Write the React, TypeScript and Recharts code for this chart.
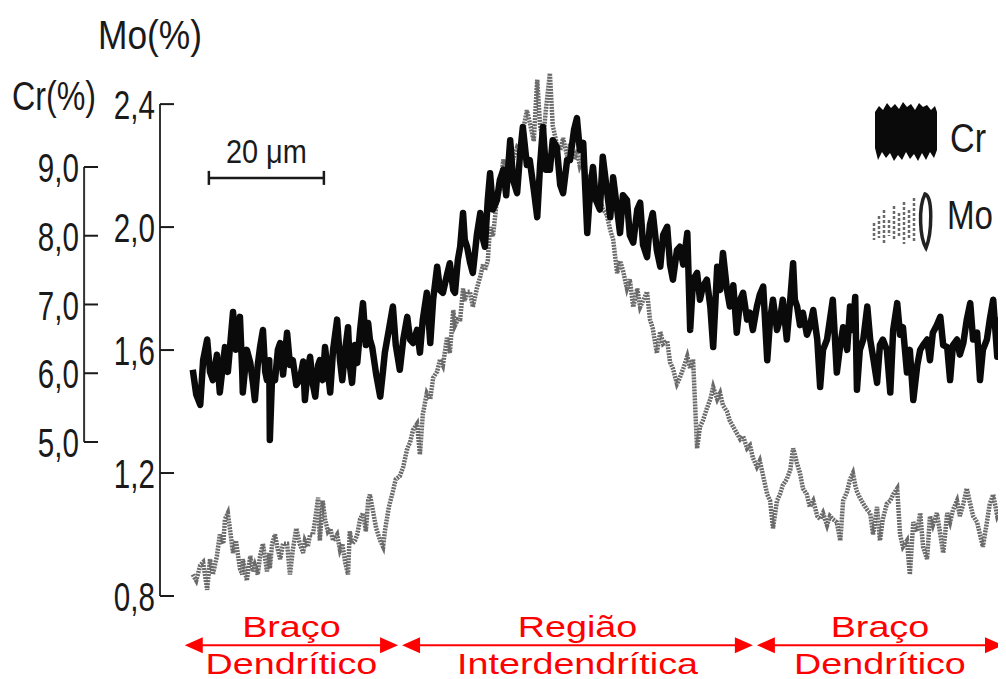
import React from 'react';
import { ComposedChart, Line, XAxis, YAxis, ReferenceLine, Legend } from 'recharts';

// distance along the scan (µm)
const DIST = [
  5.7, 6.3, 7.0, 7.5, 8.2, 8.7, 9.2, 9.9, 10.4, 11.0,
  11.3, 11.8, 12.7, 13.2, 13.9, 14.3, 14.4, 15.1, 15.7, 16.2,
  16.5, 17.0, 17.4, 17.9, 18.3, 18.6, 19.0, 19.1, 19.5, 20.0,
  20.5, 20.9, 21.4, 22.1, 22.6, 23.1, 23.7, 24.3, 24.9, 25.2,
  25.7, 26.1, 26.6, 27.0, 27.5, 27.8, 28.3, 28.7, 29.2, 29.6,
  30.1, 30.8, 31.3, 31.7, 32.2, 32.7, 33.0, 33.4, 33.9, 34.3,
  34.8, 35.3, 35.8, 36.2, 36.5, 36.9, 37.6, 38.3, 38.8, 39.1,
  39.8, 40.5, 41.0, 41.7, 42.3, 43.0, 43.5, 44.0, 44.7, 45.2,
  45.7, 46.4, 47.0, 47.5, 48.2, 48.7, 49.2, 49.9, 50.4, 51.0,
  51.3, 51.8, 52.2, 52.7, 53.0, 53.4, 53.9, 54.4, 55.1, 55.7,
  56.2, 56.5, 57.0, 57.4, 57.9, 58.6, 59.1, 59.7, 60.2, 60.9,
  61.4, 62.1, 62.6, 63.1, 63.8, 64.3, 65.0, 65.6, 66.1, 66.6,
  67.1, 67.8, 68.3, 69.0, 69.6, 70.1, 70.8, 71.3, 72.0, 72.5,
  73.0, 73.6, 74.3, 74.8, 75.3, 75.8, 76.5, 77.0, 77.7, 78.3,
  78.8, 79.5, 80.0, 80.5, 81.2, 81.7, 82.3, 83.0, 83.5, 84.0,
  84.7, 85.2, 85.7, 86.4, 87.0, 87.5, 88.2, 88.7, 89.2, 89.9,
  90.4, 91.0, 91.7, 92.2, 92.7, 93.4, 93.9, 94.4, 95.1, 95.7,
  96.2, 96.9, 97.4, 97.9, 98.6, 99.1, 99.7, 100.3, 100.9, 101.4,
  102.1, 102.6, 103.1, 103.8, 104.3, 104.9, 105.6, 106.1, 106.6, 107.3,
  107.8, 108.3, 109.0, 109.6, 110.1, 110.4, 110.8, 111.3, 111.8, 112.5,
  113.0, 113.6, 114.3, 114.8, 115.3, 116.0, 116.5, 117.0, 117.7, 118.3,
  118.8, 119.5, 120.0, 120.5, 120.9, 121.2, 121.7, 122.3, 123.0, 123.5,
  124.0, 124.7, 125.2, 125.7, 126.4, 127.0, 127.5, 128.2, 128.7, 129.2,
  129.9, 130.4, 131.0, 131.7, 132.2, 132.7, 133.4, 133.9, 134.4, 135.1,
  135.7, 136.2, 136.9, 137.4, 137.9, 138.6, 139.1, 139.7, 140.3, 140.9,
  141.4, 142.1, 142.6, 143.1, 143.8, 144.3, 144.9, 145.6, 146.1, 146.6,
];

// Cr (%)
const CR = [
  6.05, 5.69, 5.54, 6.19, 6.49, 6.02, 5.90, 6.27, 5.72, 6.17,
  6.38, 6.02, 6.89, 6.34, 6.82, 6.02, 5.72, 6.34, 6.15, 5.83,
  5.61, 6.12, 6.38, 6.63, 6.02, 5.90, 6.19, 5.03, 5.98, 5.90,
  6.34, 6.44, 5.98, 6.59, 6.12, 6.19, 5.83, 5.90, 6.17, 5.61,
  6.05, 6.24, 5.83, 5.66, 6.12, 6.19, 5.90, 6.38, 6.02, 5.72,
  6.34, 6.78, 6.19, 5.90, 6.34, 6.67, 6.12, 5.86, 6.41, 6.15,
  6.63, 7.02, 6.41, 6.73, 6.49, 6.38, 5.98, 5.66, 6.05, 6.30,
  6.63, 6.97, 6.41, 6.05, 6.49, 6.82, 6.49, 6.44, 6.63, 6.30,
  6.78, 7.17, 6.44, 7.07, 7.55, 7.21, 7.17, 7.43, 7.60, 7.21,
  7.17, 7.65, 7.84, 8.33, 7.94, 7.84, 7.62, 7.46, 8.01, 8.33,
  7.94, 7.84, 8.52, 8.91, 8.38, 8.52, 8.81, 8.96, 8.59, 9.39,
  8.81, 8.62, 9.17, 9.58, 9.03, 9.10, 8.67, 8.27, 9.03, 9.58,
  8.96, 8.96, 9.39, 9.29, 8.74, 8.62, 9.10, 9.10, 9.54, 9.71,
  9.25, 9.35, 8.04, 8.67, 9.00, 8.52, 8.38, 9.15, 8.67, 8.27,
  8.85, 8.38, 8.04, 8.59, 8.52, 8.01, 7.90, 8.38, 8.48, 7.87,
  7.69, 8.16, 8.33, 7.79, 7.55, 8.01, 8.13, 7.58, 7.36, 7.79,
  7.84, 7.58, 8.04, 6.63, 7.36, 7.46, 7.07, 7.26, 7.36, 6.97,
  6.38, 7.55, 7.21, 7.75, 7.21, 6.97, 7.28, 6.59, 7.07, 7.17,
  6.78, 6.88, 6.63, 6.97, 7.14, 7.26, 6.19, 6.78, 7.07, 6.63,
  6.78, 7.07, 6.49, 7.07, 7.60, 7.07, 6.97, 6.70, 6.88, 6.56,
  6.67, 6.92, 6.49, 5.80, 6.34, 6.49, 6.78, 7.07, 6.01, 6.41,
  6.67, 6.34, 6.97, 6.63, 7.11, 5.76, 6.34, 6.49, 6.97, 6.49,
  6.24, 5.86, 6.41, 6.49, 6.34, 5.72, 6.63, 7.02, 6.56, 6.67,
  6.01, 6.34, 5.61, 6.12, 6.34, 6.41, 6.49, 6.19, 6.59, 6.70,
  6.82, 6.41, 6.38, 5.90, 6.41, 6.49, 6.27, 6.44, 6.78, 7.02,
  6.49, 6.59, 5.90, 6.34, 6.49, 6.78, 7.07, 6.24, 6.78, 6.41,
];

// Mo (%)
const MO = [
  0.87, 0.85, 0.90, 0.91, 0.82, 0.92, 0.87, 0.93, 1.00, 0.97,
  1.05, 1.07, 0.94, 0.98, 0.89, 0.87, 0.92, 0.85, 0.93, 0.88,
  0.90, 0.87, 0.93, 0.97, 0.92, 0.88, 0.94, 0.89, 0.97, 1.00,
  0.95, 0.92, 0.97, 0.97, 0.87, 0.95, 1.02, 0.97, 0.94, 0.98,
  0.96, 1.00, 1.00, 1.05, 1.12, 0.98, 1.11, 1.05, 1.01, 1.02,
  0.98, 1.00, 0.95, 0.97, 0.91, 0.87, 1.01, 0.97, 0.98, 1.00,
  1.05, 1.07, 1.01, 1.11, 1.13, 1.09, 1.02, 0.98, 0.96, 1.01,
  1.09, 1.14, 1.18, 1.19, 1.22, 1.28, 1.30, 1.34, 1.36, 1.26,
  1.39, 1.46, 1.44, 1.51, 1.53, 1.57, 1.55, 1.64, 1.59, 1.73,
  1.68, 1.70, 1.70, 1.80, 1.76, 1.79, 1.79, 1.74, 1.80, 1.84,
  1.88, 1.86, 1.89, 2.00, 1.97, 2.09, 2.12, 2.22, 2.17, 2.28,
  2.22, 2.26, 2.25, 2.31, 2.38, 2.34, 2.28, 2.48, 2.33, 2.28,
  2.38, 2.50, 2.33, 2.27, 2.25, 2.29, 2.23, 2.27, 2.22, 2.25,
  2.20, 2.23, 2.14, 2.17, 2.10, 2.12, 2.09, 2.06, 2.04, 1.99,
  1.96, 1.85, 1.89, 1.86, 1.80, 1.83, 1.74, 1.80, 1.74, 1.76,
  1.79, 1.70, 1.67, 1.59, 1.66, 1.62, 1.63, 1.56, 1.54, 1.49,
  1.51, 1.54, 1.58, 1.54, 1.57, 1.28, 1.35, 1.37, 1.41, 1.44,
  1.48, 1.44, 1.46, 1.42, 1.40, 1.37, 1.35, 1.33, 1.31, 1.32,
  1.28, 1.29, 1.25, 1.22, 1.24, 1.19, 1.13, 1.11, 1.02, 1.11,
  1.13, 1.16, 1.18, 1.21, 1.28, 1.26, 1.23, 1.20, 1.15, 1.13,
  1.09, 1.11, 1.06, 1.05, 1.07, 1.03, 1.06, 1.05, 1.04, 0.98,
  1.11, 1.14, 1.18, 1.20, 1.16, 1.14, 1.12, 1.10, 1.08, 1.07,
  1.00, 1.09, 0.98, 1.05, 1.10, 1.11, 1.13, 1.15, 1.00, 0.96,
  0.98, 0.87, 1.04, 1.01, 1.07, 0.96, 0.92, 1.06, 1.03, 1.07,
  1.00, 0.94, 1.07, 1.04, 1.08, 1.11, 1.06, 1.10, 1.15, 1.10,
  1.06, 1.04, 1.00, 0.96, 1.04, 1.10, 1.13, 1.06, 1.08, 1.01,
];

const MO_TICKS = [0.8, 1.2, 1.6, 2.0, 2.4];
const CR_TICKS = [5, 6, 7, 8, 9];
const MO_DOMAIN: [number, number] = [0.8, 2.55];
const CR_DOMAIN: [number, number] = [2.76, 10.585];
const X_DOMAIN: [number, number] = [0, 146.6];
const CR_AXIS_X = -13.2;

const SCALE_BAR_START = 8.5;
const SCALE_BAR_LENGTH = 20;
const SCALE_BAR_LEVEL = 2.16;
const SCALE_BAR_LABEL = '20 μm';

const REGION_SEGMENTS = [
  [4.3, 41.4],
  [42.1, 103.1],
  [103.8, 146.6],
];
const REGION_LABELS = [
  ['Braço', 'Dendrítico'],
  ['Região', 'Interdendrítica'],
  ['Braço', 'Dendrítico'],
];
const REGION_LEVEL = 0.64;

const SERIES_NAMES: Record<string, string> = { cr: 'Cr', mo: 'Mo' };

// axis ids: the first (sorted) left axis sits next to the plot
const MO_AXIS = 'y1Mo';
const CR_AXIS = 'y2Cr';

const data = DIST.map((d, i) => ({ d, cr: CR[i], mo: MO[i] }));

const FONT = "'Liberation Sans', Arial, sans-serif";
const INK = '#1a1a1a';

const fmt = (v: number) => v.toFixed(1).replace('.', ',');

const AxisTick = (props: any) => {
  const { x, y, payload } = props;
  return (
    <g>
      <line x1={x} y1={y} x2={x + 14} y2={y} stroke={INK} strokeWidth={2} />
      <text
        transform={`translate(${x - 5},${y + 1}) scale(0.74,1)`}
        textAnchor="end"
        dominantBaseline="central"
        fontSize={40}
        fontFamily={FONT}
        fill={INK}
      >
        {fmt(payload.value)}
      </text>
    </g>
  );
};

const makeTitle = (dx: number, dy: number, len: number) => (p: any) => {
  const vb = p.viewBox || {};
  return (
    <text
      x={vb.x + dx}
      y={vb.y + dy}
      fontSize={40}
      fontFamily={FONT}
      fill={INK}
      textLength={len}
      lengthAdjust="spacingAndGlyphs"
    >
      {p.value}
    </text>
  );
};

const ScaleBarShape = (props: any) => {
  const { x1, y1, x2 } = props;
  return (
    <g>
      <line x1={x1} y1={y1} x2={x2} y2={y1} stroke={INK} strokeWidth={2.5} />
      <line x1={x1} y1={y1 - 7} x2={x1} y2={y1 + 7} stroke={INK} strokeWidth={2.5} />
      <line x1={x2} y1={y1 - 7} x2={x2} y2={y1 + 7} stroke={INK} strokeWidth={2.5} />
      <text
        x={(x1 + x2) / 2}
        y={y1 - 15}
        textAnchor="middle"
        fontSize={34}
        fontFamily={FONT}
        fill={INK}
        textLength={81}
        lengthAdjust="spacingAndGlyphs"
      >
        {SCALE_BAR_LABEL}
      </text>
    </g>
  );
};

const RED = '#ff0000';
const makeRegionShape = (lines: string[]) => (props: any) => {
  const { x1, y1, x2 } = props;
  const mid = (x1 + x2) / 2;
  const ah = 18;
  const hw = 8;
  return (
    <g>
      <line x1={x1 + ah - 2} y1={y1} x2={x2 - ah + 2} y2={y1} stroke={RED} strokeWidth={2} />
      <polygon points={`${x1},${y1} ${x1 + ah},${y1 - hw} ${x1 + ah},${y1 + hw}`} fill={RED} />
      <polygon points={`${x2},${y1} ${x2 - ah},${y1 - hw} ${x2 - ah},${y1 + hw}`} fill={RED} />
      <text transform={`translate(${mid},${y1 - 8}) scale(1.3,1)`} textAnchor="middle" fontSize={29} fontFamily={FONT} fill={RED}>
        {lines[0]}
      </text>
      <text transform={`translate(${mid},${y1 + 29}) scale(1.3,1)`} textAnchor="middle" fontSize={29} fontFamily={FONT} fill={RED}>
        {lines[1]}
      </text>
    </g>
  );
};

const LegendContent = (props: any) => {
  const payload: any[] = props.payload || [];
  const find = (k: string) => payload.find((p) => p.dataKey === k);
  const cr = find('cr');
  const mo = find('mo');
  return (
    <svg width={140} height={165} style={{ display: 'block' }}>
      <polygon
        points="5,14 9,8 13,12 17,5 21,10 25,6 29,11 33,4 37,9 41,6 45,12 49,5 53,9 57,7 61,12 65,8 67,14 67,52 64,60 60,54 56,62 52,55 48,63 44,56 40,61 36,54 32,62 28,57 24,63 20,55 16,60 12,54 8,62 5,50"
        fill={cr ? cr.color : '#111'}
      />
      <text x={80} y={54} fontSize={40} fontFamily={FONT} fill={INK} textLength={36} lengthAdjust="spacingAndGlyphs">
        {cr ? cr.value : 'Cr'}
      </text>
      <g stroke={mo ? mo.color : '#777'} strokeWidth={2.5} strokeDasharray="3 2">
        <line x1={4} y1={125} x2={4} y2={142} />
        <line x1={9} y1={118} x2={9} y2={140} />
        <line x1={14} y1={112} x2={14} y2={145} />
        <line x1={19} y1={122} x2={19} y2={138} />
        <line x1={24} y1={108} x2={24} y2={143} />
        <line x1={29} y1={115} x2={29} y2={140} />
        <line x1={34} y1={104} x2={34} y2={146} />
        <line x1={39} y1={112} x2={39} y2={141} />
        <line x1={44} y1={100} x2={44} y2={144} />
      </g>
      <path d="M55,96 C63,98 62,135 56,150 C50,140 48,110 55,96 Z" stroke="#222" strokeWidth={3.5} fill="none" />
      <text x={77} y={131} fontSize={40} fontFamily={FONT} fill={INK} textLength={46} lengthAdjust="spacingAndGlyphs">
        {mo ? mo.value : 'Mo'}
      </text>
    </svg>
  );
};

export default function App() {
  return (
    <ComposedChart
      width={998}
      height={671}
      data={data}
      margin={{ top: 50, right: 3, bottom: 83, left: 0 }}
      style={{ fontFamily: FONT }}
    >
      <XAxis dataKey="d" type="number" domain={X_DOMAIN} hide />
      <YAxis
        yAxisId={MO_AXIS}
        orientation="left"
        type="number"
        domain={MO_DOMAIN}
        ticks={MO_TICKS}
        interval={0}
        width={76}
        axisLine={false}
        tickLine={false}
        tickSize={0}
        tickMargin={0}
        tick={<AxisTick />}
        label={{ value: 'Mo(%)', content: makeTitle(14, -9, 104) }}
      />
      <YAxis
        yAxisId={CR_AXIS}
        orientation="left"
        type="number"
        domain={CR_DOMAIN}
        ticks={CR_TICKS}
        interval={0}
        width={76}
        axisLine={false}
        tickLine={false}
        tickSize={0}
        tickMargin={0}
        tick={<AxisTick />}
        label={{ value: 'Cr(%)', content: makeTitle(4, 52, 84) }}
      />
      <ReferenceLine
        yAxisId={MO_AXIS}
        segment={[{ x: 0, y: MO_TICKS[0] }, { x: 0, y: MO_TICKS[MO_TICKS.length - 1] }]}
        stroke="#333"
        strokeWidth={2}
        ifOverflow="visible"
      />
      <ReferenceLine
        yAxisId={CR_AXIS}
        segment={[{ x: CR_AXIS_X, y: CR_TICKS[0] }, { x: CR_AXIS_X, y: CR_TICKS[CR_TICKS.length - 1] }]}
        stroke="#333"
        strokeWidth={2}
        ifOverflow="visible"
      />
      <ReferenceLine
        yAxisId={MO_AXIS}
        segment={[
          { x: SCALE_BAR_START, y: SCALE_BAR_LEVEL },
          { x: SCALE_BAR_START + SCALE_BAR_LENGTH, y: SCALE_BAR_LEVEL },
        ]}
        ifOverflow="visible"
        shape={(p: any) => <ScaleBarShape {...p} />}
      />
      {REGION_SEGMENTS.map((seg, i) => (
        <ReferenceLine
          key={`reg-${i}`}
          yAxisId={MO_AXIS}
          segment={[{ x: seg[0], y: REGION_LEVEL }, { x: seg[1], y: REGION_LEVEL }]}
          ifOverflow="visible"
          shape={makeRegionShape(REGION_LABELS[i])}
        />
      ))}
      <Line
        yAxisId={MO_AXIS}
        dataKey="mo"
        name={SERIES_NAMES.mo}
        type="linear"
        stroke="#6a6a6a"
        strokeWidth={4.5}
        strokeDasharray="2 1"
        dot={false}
        activeDot={false}
        isAnimationActive={false}
      />
      <Line
        yAxisId={CR_AXIS}
        dataKey="cr"
        name={SERIES_NAMES.cr}
        type="linear"
        stroke="#0a0a0a"
        strokeWidth={6.5}
        strokeLinejoin="round"
        dot={false}
        activeDot={false}
        isAnimationActive={false}
      />
      <Legend
        layout="vertical"
        align="center"
        verticalAlign="middle"
        wrapperStyle={{ left: 862, top: 90, width: 140, height: 165 }}
        content={<LegendContent />}
      />
    </ComposedChart>
  );
}
